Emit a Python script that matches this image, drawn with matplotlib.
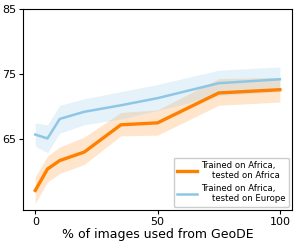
import matplotlib.pyplot as plt

# % of GeoDE images used
pct = [0, 5, 10, 20, 35, 50, 75, 100]

# trained on Africa, tested on Africa
africa_mean = [57.1, 60.4, 61.7, 63.0, 67.2, 67.5, 72.1, 72.6]
africa_low = [55.1, 58.4, 59.7, 61.1, 65.5, 65.6, 70.2, 70.7]
africa_high = [59.2, 62.4, 63.8, 65.3, 69.1, 69.5, 74.3, 74.5]

# trained on Africa, tested on Europe
europe_mean = [65.7, 65.1, 68.1, 69.2, 70.2, 71.3, 73.6, 74.2]
europe_low = [63.9, 62.9, 65.9, 67.2, 68.1, 69.4, 71.7, 72.3]
europe_high = [67.5, 67.2, 70.2, 71.2, 72.3, 73.4, 75.6, 76.1]

fig = plt.figure(figsize=(2.99, 2.45), dpi=100)
ax = fig.add_axes([0.077, 0.143, 0.9, 0.82])

orange = '#ff8000'
blue = '#8ec7e6'

ax.fill_between(pct, africa_low, africa_high, color=orange, alpha=0.2, linewidth=0)
ax.plot(pct, africa_mean, color=orange, linewidth=2.4, label='Trained on Africa,\n    tested on Africa')
ax.fill_between(pct, europe_low, europe_high, color=blue, alpha=0.22, linewidth=0)
ax.plot(pct, europe_mean, color=blue, linewidth=1.8, label='Trained on Africa,\n    tested on Europe')

ax.set_ylim(54.1, 85)
ax.set_yticks([65, 75, 85])
ax.set_xticks([0, 50, 100])
ax.tick_params(labelsize=8, length=3, pad=2)
ax.set_xlabel('% of images used from GeoDE', fontsize=9, labelpad=1)

ax.legend(loc='lower right', fontsize=6.1, handlelength=2.3, handletextpad=0.5,
          borderpad=0.4, labelspacing=0.4, borderaxespad=0.4, framealpha=1, fancybox=True)

fig.savefig('out.png', dpi=100)
